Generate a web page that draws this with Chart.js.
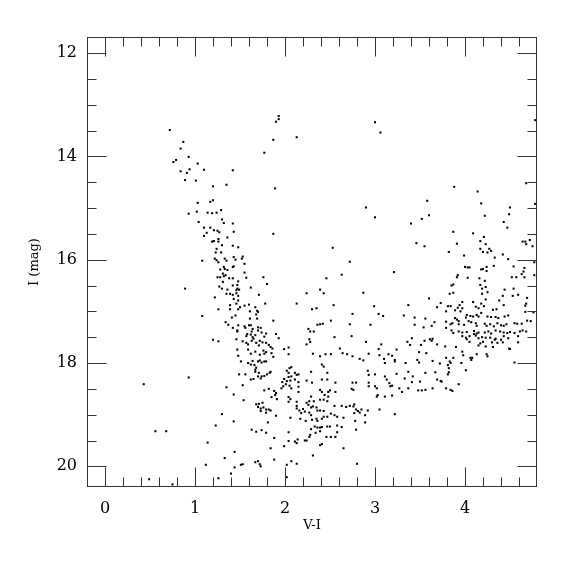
<!DOCTYPE html>
<html>
<head>
<meta charset="utf-8">
<style>
  html, body { margin: 0; padding: 0; background: #fff; }
  #wrap { width: 575px; height: 575px; }
</style>
<script src="https://cdn.jsdelivr.net/npm/chart.js@4/dist/chart.umd.min.js"></script>
</head>
<body>
<div id="wrap"><canvas id="c" width="575" height="575"></canvas></div>
<script>
// ---- Data (V-I colour, I magnitude) ----
const brightStars = [[0.72,13.49],[0.87,13.72],[0.84,13.85],[0.93,14.01],[0.79,14.07],[0.76,14.11],[1.03,14.14],[0.94,14.25],[1.10,14.26],[1.42,14.27],[0.84,14.29],[0.91,14.32],[0.89,14.46],[1.01,14.47],[1.20,14.58],[1.35,14.55],
[1.93,13.22],[1.93,13.28],[1.90,13.33],[3.00,13.34],[3.06,13.54],[2.13,13.63],[1.87,13.68],[1.77,13.93],[1.89,14.62],
[4.78,13.30],[4.68,14.52],[3.88,14.59]];

const blueBranch = [[1.03,14.90],[1.17,14.88],[1.20,14.85],[0.93,15.11],[1.02,15.07],[1.14,15.09],[1.19,15.10],[1.24,15.09],[1.29,15.04],[1.30,15.22],[1.32,15.29],[1.42,15.30],[1.04,15.27],[1.10,15.38],[1.17,15.38],[1.21,15.43],[1.25,15.44],[1.27,15.47],[1.13,15.48],[1.43,15.46],[1.10,15.54],[1.36,15.57],[1.26,15.60],[1.19,15.65],[1.21,15.64],[1.26,15.65],[1.30,15.72],[1.42,15.73],[1.48,15.76],[1.24,15.79],[1.23,15.86],[1.29,15.86],[1.22,15.98],[1.24,16.01],[1.26,16.05],[1.33,15.98],[1.35,16.02],[1.43,15.95],[1.45,16.00],[1.08,16.02],[1.32,16.14],[1.42,16.14],[1.43,16.13],[1.28,16.19],[1.33,16.18],[1.36,16.20],[1.31,16.27],[1.25,16.34],[1.28,16.34],[1.32,16.32],[1.34,16.30],[1.38,16.36],[1.42,16.36],[1.31,16.43],[1.48,16.42],[1.42,16.50],[1.47,16.49],[1.27,16.52],[1.30,16.56],[1.36,16.58],[1.47,16.56],[1.46,16.59],[1.49,16.58],[0.89,16.56],[1.35,16.66],[1.39,16.66],[1.42,16.68],[1.46,16.65],[1.48,16.70],[1.22,16.73],[1.43,16.76],[1.48,16.79],[1.46,16.85],[1.39,16.88],[1.26,16.96],[1.39,16.96],[1.48,16.96],[1.45,17.08],[1.41,17.12],[1.08,17.09],[1.34,17.21],[1.37,17.26],[1.48,17.27],[1.42,17.32],[1.47,17.37]];

const middleStars = [[2.90,14.99],[3.00,15.18],[1.87,15.50],[2.53,15.77],[2.72,16.04],[1.53,15.94],[1.52,15.98],[1.55,16.08],[1.55,16.25],[1.57,16.35],[1.76,16.34],[1.80,16.47],[1.62,16.54],[1.71,16.68],[1.78,16.85],[1.55,16.89],[1.60,16.87],[1.67,16.92],[1.50,16.92],[1.61,17.00],[1.69,16.99],[1.70,17.01],[1.68,17.06],[1.69,17.14],[1.61,17.14],[1.87,17.18],[1.55,17.29],[1.60,17.27],[1.62,17.27],[1.56,17.32],[1.64,17.34],[1.70,17.31],[1.73,17.32],[1.70,17.37],[1.63,17.39],[1.74,17.41],[1.79,17.43],[1.58,17.44],[1.62,17.45],[1.67,17.46],[1.57,17.48],[1.77,17.49],[1.90,17.44],[1.93,17.52],[1.64,17.50],
[2.24,16.65],[2.39,16.58],[2.43,16.65],[2.46,16.36],[2.63,16.29],[2.87,16.64],[2.13,16.85],[2.30,16.96],[2.35,16.94],[2.54,16.88],[2.99,16.90],[3.04,17.05],[2.75,17.05],[3.09,17.09],[2.51,17.18],[2.42,17.24],[2.36,17.26],[2.39,17.25],[2.72,17.25],[2.95,17.26],[2.26,17.34],[2.28,17.39],[2.32,17.39],[2.27,17.54],[2.55,17.50],[2.74,17.48]];

const redGiants = [[4.14,14.68],[3.58,14.86],[4.18,14.91],[4.78,14.92],[4.50,14.99],[3.60,15.14],[3.52,15.21],[4.22,15.15],[4.49,15.12],[3.40,15.30],[4.43,15.27],[4.47,15.38],[3.87,15.46],[4.09,15.49],[4.21,15.56],[4.17,15.64],[4.23,15.70],[3.91,15.69],[3.46,15.68],[3.55,15.74],[4.64,15.65],[4.67,15.65],[4.72,15.62],[4.68,15.70],[4.75,15.74],[4.17,15.79],[4.20,15.85],[4.27,15.79],[4.29,15.83],[4.25,15.86],[3.82,15.85],[3.99,15.92],[4.42,15.90],[4.33,15.96],[4.48,15.99],[4.77,16.05],[4.00,16.14],[4.03,16.15],[4.05,16.15],[4.32,16.12],[4.24,16.14],[4.18,16.19],[4.20,16.18],[4.24,16.22],[4.54,16.13],[4.66,16.16],[4.65,16.23],[4.63,16.28],[4.77,16.30],[4.66,16.34],[4.52,16.34],[4.57,16.34],[3.92,16.30],[3.91,16.34],[4.03,16.35],[4.16,16.36],[4.22,16.41],[3.21,16.24],[3.87,16.48],[3.85,16.50],[4.17,16.49],[4.19,16.56],[4.23,16.53],[4.44,16.58],[4.54,16.56],[3.87,16.64],[3.83,16.66],[4.19,16.66],[4.25,16.63],[3.60,16.75],[4.42,16.70],[4.53,16.70],[4.59,16.68],[4.69,16.74]];

const redClump = [[3.73,16.84],[3.69,16.92],[3.37,16.88],[3.81,16.90],[3.84,16.90],[3.94,16.88],[3.97,16.82],[4.09,16.82],[4.23,16.77],[4.18,16.85],[4.38,16.79],[4.12,16.91],[4.15,16.94],[3.92,16.93],[3.97,16.94],[4.21,16.90],[4.43,16.88],[4.67,16.89],[4.68,16.85],[3.32,17.08],[3.44,17.12],[3.56,17.14],[3.79,17.00],[3.89,16.98],[3.95,17.00],[3.89,17.13],[3.91,17.16],[3.93,17.19],[4.02,17.07],[4.06,17.09],[4.09,17.10],[4.01,17.12],[4.15,17.10],[4.13,17.07],[4.18,17.03],[4.25,17.10],[4.31,16.97],[4.35,16.96],[4.29,17.11],[4.34,17.11],[4.37,17.13],[4.44,17.10],[4.48,17.08],[4.67,17.01],[4.76,17.02],[4.69,17.18],[4.73,17.19],[3.44,17.26],[3.54,17.31],[3.63,17.28],[3.66,17.21],[3.79,17.20],[3.79,17.32],[3.84,17.25],[3.86,17.23],[3.93,17.25],[3.99,17.26],[4.04,17.19],[4.07,17.21],[4.12,17.23],[4.13,17.28],[4.22,17.24],[4.24,17.28],[4.28,17.25],[4.32,17.29],[4.36,17.23],[4.40,17.27],[4.43,17.28],[4.46,17.25],[4.55,17.23],[4.58,17.24],[4.63,17.24],[3.85,17.37],[3.87,17.42],[3.93,17.39],[3.97,17.41],[4.02,17.40],[4.10,17.38],[4.13,17.43],[4.15,17.41],[4.10,17.44],[4.22,17.41],[4.26,17.39],[4.29,17.43],[4.34,17.37],[4.39,17.39],[4.43,17.41],[4.47,17.42],[4.50,17.40],[4.55,17.42],[4.61,17.39],[4.64,17.37],[4.68,17.39],[3.41,17.52],[3.61,17.54],[3.64,17.53],[3.97,17.48],[4.05,17.48],[4.12,17.47],[4.19,17.50],[4.34,17.53],[4.43,17.48],[4.48,17.52],[4.59,17.48],[4.01,17.51],[4.15,17.52],[4.23,17.51],[4.28,17.51]];

const blueFaint = [[1.47,17.39],[1.20,17.55],[1.26,17.58],[1.46,17.54],[1.47,17.74],[1.48,17.86],[1.49,18.22],[0.93,18.28],[0.43,18.41],[1.35,18.47],[1.43,18.61],[1.30,18.99],[1.43,19.13],[1.23,19.21],[0.56,19.32],[0.68,19.32],[1.14,19.54],[1.44,19.72],[1.33,19.84],[1.12,19.97],[1.44,20.02],[1.40,20.14],[1.26,20.23],[0.49,20.25],[0.75,20.35]];

const faintStars = [[1.53,17.58],[1.57,17.61],[1.59,17.64],[1.63,17.57],[1.65,17.53],[1.68,17.61],[1.71,17.66],[1.72,17.57],[1.75,17.60],[1.79,17.61],[1.82,17.65],[1.84,17.69],[1.86,17.72],[2.28,17.59],[2.24,17.64],[1.59,17.74],[1.62,17.82],[1.67,17.78],[1.72,17.84],[1.76,17.76],[1.77,17.82],[1.79,17.79],[1.85,17.81],[1.87,17.88],[1.99,17.73],[2.04,17.70],[2.04,17.83],[2.31,17.82],[2.39,17.87],[2.45,17.83],[2.51,17.83],[2.61,17.72],[2.64,17.81],[2.69,17.83],[2.75,17.87],[2.83,17.92],[2.87,17.95],[2.90,17.59],[2.93,17.82],[3.04,17.73],[3.07,17.64],[3.10,17.92],[3.11,18.00],[3.15,17.83],
[1.51,17.97],[1.59,18.00],[1.64,17.96],[1.70,17.97],[1.72,17.95],[1.74,17.99],[1.77,17.97],[1.79,17.97],[1.62,18.03],[1.66,18.04],[1.68,18.09],[1.67,18.13],[1.67,18.17],[1.71,18.19],[1.74,18.26],[1.77,18.25],[1.80,18.22],[1.83,18.19],[1.84,18.17],[1.70,18.26],[1.73,18.30],[1.65,18.31],[1.62,18.32],[1.56,18.22],
[2.41,18.03],[2.43,18.07],[2.05,18.10],[2.07,18.08],[2.02,18.15],[2.04,18.19],[2.11,18.19],[2.13,18.23],[2.15,18.22],[2.04,18.27],[2.07,18.26],[1.99,18.31],[2.02,18.35],[2.06,18.34],[2.11,18.32],[1.97,18.37],[2.01,18.41],[2.05,18.44],[2.07,18.49],[2.15,18.37],[2.15,18.46],[2.15,18.56],[2.29,18.17],[2.24,18.34],[2.30,18.38],[2.41,18.32],[2.47,18.19],[2.47,18.32],[2.56,18.38],[2.75,18.38],[2.79,18.38],[2.76,18.52],[2.92,18.15],[2.93,18.23],[3.00,18.22],[2.93,18.38],[2.93,18.45],[3.00,18.45],[3.02,18.49],[3.03,18.62],[3.02,18.65],[3.11,18.26],[3.13,18.32],[3.16,18.39],
[1.53,18.43],[1.77,18.53],[1.82,18.50],[1.88,18.54],[1.90,18.58],[1.89,18.62],[1.91,18.70],[1.85,18.66],[1.96,18.49],[1.98,18.45],[2.39,18.52],[2.41,18.56],[2.48,18.56],[2.50,18.53],[2.56,18.56],[2.44,18.62],[2.48,18.65],[2.43,18.71],[2.47,18.74],[2.39,18.71],[2.74,18.50],
[1.54,18.72],[1.68,18.80],[1.71,18.79],[1.75,18.77],[1.70,18.85],[1.73,18.88],[1.76,18.86],[1.79,18.90],[1.73,18.93],[1.82,18.90],[1.79,18.96],[1.84,18.92],
[2.04,18.66],[2.06,18.70],[2.04,18.75],[2.13,18.75],[2.13,18.83],[2.13,18.88],[2.16,18.92],[2.18,18.97],[2.20,18.89],[2.22,18.94],[2.24,18.77],[2.26,18.81],[2.27,18.74],[2.29,18.65],[2.32,18.74],[2.29,18.86],[2.31,18.84],[2.35,18.86],[2.36,18.92],[2.39,18.92],[2.43,18.93],[2.27,18.96],[2.29,19.01],
[2.55,18.83],[2.63,18.83],[2.68,18.85],[2.72,18.83],[2.76,18.84],[2.77,18.80],[2.79,18.90],[2.81,18.93],[2.83,18.96],[2.85,18.90],[2.92,18.92],[2.89,19.01],[2.77,18.97],
[1.90,19.02],[2.06,19.06],[2.17,19.08],[2.23,19.12],[2.30,19.10],[2.35,19.08],[2.36,19.12],[2.41,19.08],[2.43,19.04],[2.47,19.04],[2.51,18.98],[2.55,19.01],[2.58,19.04],[2.65,19.06],[2.78,19.12],[2.89,19.15],[3.05,18.90],[1.81,19.15],
[2.33,19.23],[2.36,19.25],[2.39,19.25],[2.41,19.24],[2.47,19.23],[2.50,19.23],[2.29,19.28],[2.39,19.32],[2.34,19.35],[2.28,19.39],[2.58,19.21],[2.63,19.24],[2.58,19.34],[2.56,19.43],[2.46,19.43],[2.51,19.43],[2.79,19.29],
[1.63,19.29],[1.68,19.33],[1.74,19.30],[1.79,19.35],[2.04,19.34],[1.88,19.45],[2.04,19.51],[2.11,19.52],[2.13,19.55],[2.14,19.48],[2.22,19.50],[2.24,19.50],[2.27,19.43],[2.39,19.59],[2.41,19.57],[1.99,19.61],[2.65,19.65],[1.84,19.65],[2.31,19.79],[1.88,19.87],[1.67,19.92],[1.70,19.90],[1.73,20.00],[1.72,19.96],[2.07,19.90],[2.13,19.95],[2.02,19.97],[1.53,19.96],[1.51,19.97],[2.80,19.95],[2.02,20.21]];

const redFaint = [[3.05,17.85],[3.19,17.86],[3.22,17.94],[3.22,17.97],[3.24,17.74],[3.17,18.45],[3.19,18.44],[3.24,18.21],[3.27,18.49],[3.30,18.56],[3.33,18.30],[3.37,18.17],[3.37,18.49],[3.41,18.37],[3.42,18.26],[3.11,18.65],[3.19,18.63],[3.22,18.99],[3.34,18.00],[3.36,17.59],[3.39,17.65],[3.47,17.94],[3.49,17.99],[3.49,17.79],[3.51,17.65],[3.55,17.57],[3.57,17.81],[3.56,18.19],[3.63,17.57],[3.69,17.64],[3.64,17.96],[3.72,18.01],[3.78,17.68],[3.79,17.90],[3.81,18.04],[3.83,17.97],[3.50,18.36],[3.48,18.53],[3.52,18.53],[3.56,18.52],[3.64,18.49],[3.67,18.18],[3.69,18.32],[3.73,18.35],[3.74,18.36],[3.79,18.49],[3.81,18.22],[3.82,18.18],[3.82,18.10],[3.84,18.52],[3.86,18.54],[3.93,18.41],[3.84,18.00],[3.87,17.90],[3.90,17.69],[3.96,18.00],[3.97,17.78],[3.98,17.85],[4.01,18.14],[4.02,17.54],[4.05,17.59],[4.15,17.66],[4.17,17.62],[4.20,17.59],[4.23,17.68],[4.24,17.83],[4.25,17.87],[4.30,17.60],[4.31,17.69],[4.33,17.55],[4.36,17.61],[4.40,17.55],[4.42,17.60],[4.49,17.72],[4.50,17.73],[4.59,17.60],[4.55,17.99],[4.08,17.90],[4.06,17.90],[4.07,17.94],[4.13,17.83]];

const xMajorTicks = [0, 1, 2, 3, 4];
const xMinorStep = 0.2;
const yMajorTicks = [12, 14, 16, 18, 20];
const yMinorStep = 0.5;
const xTitle = 'V-I';
const yTitle = 'I (mag)';

// ---- Chart ----
const allStars = [].concat(brightStars, blueBranch, middleStars, redGiants, redClump, blueFaint, faintStars, redFaint)
  .map(p => ({ x: p[0], y: p[1] }));

const frameColor = '#333';
const frameTicks = {
  id: 'frameTicks',
  afterDatasetsDraw(chart) {
    const { ctx, chartArea: a, scales: { x, y } } = chart;
    const L = Math.round(a.left) + 0.5, R = Math.round(a.right) - 0.5;
    const T = Math.round(a.top) + 0.5, B = Math.round(a.bottom) - 0.5;
    ctx.save();
    ctx.strokeStyle = frameColor;
    ctx.lineWidth = 1;
    ctx.strokeRect(L, T, R - L, B - T);
    ctx.beginPath();
    const xMajorSet = xMajorTicks.map(v => v.toFixed(2));
    for (let i = Math.ceil(x.min / xMinorStep); i * xMinorStep <= x.max + 1e-9; i++) {
      const v = i * xMinorStep;
      const p = Math.round(x.getPixelForValue(v)) + 0.5;
      if (p <= L + 1 || p >= R - 1) continue;
      const len = xMajorSet.includes(v.toFixed(2)) ? 19 : 9;
      ctx.moveTo(p, B); ctx.lineTo(p, B - len);
      ctx.moveTo(p, T); ctx.lineTo(p, T + len);
    }
    const yMajorSet = yMajorTicks.map(v => v.toFixed(2));
    for (let i = Math.ceil(y.min / yMinorStep); i * yMinorStep <= y.max + 1e-9; i++) {
      const v = i * yMinorStep;
      const p = Math.round(y.getPixelForValue(v)) + 0.5;
      if (p <= T + 1 || p >= B - 1) continue;
      const len = yMajorSet.includes(v.toFixed(2)) ? 19 : 9;
      ctx.moveTo(L, p); ctx.lineTo(L + len, p);
      ctx.moveTo(R, p); ctx.lineTo(R - len, p);
    }
    ctx.stroke();
    ctx.restore();
  }
};

const tickFont = { family: "'DejaVu Serif', serif", size: 16 };
const titleFont = { family: "'DejaVu Serif', serif", size: 13 };

new Chart(document.getElementById('c'), {
  type: 'scatter',
  data: {
    datasets: [{
      data: allStars,
      pointStyle: 'rect',
      pointRadius: 1.45,
      pointBorderWidth: 0,
      pointBackgroundColor: '#000',
      borderColor: '#000',
      backgroundColor: '#000'
    }]
  },
  options: {
    responsive: false,
    devicePixelRatio: 1,
    animation: false,
    events: [],
    layout: { padding: { left: 0, right: 38, top: 37, bottom: 0 } },
    plugins: { legend: { display: false }, tooltip: { enabled: false } },
    scales: {
      x: {
        type: 'linear',
        min: -0.2,
        max: 4.8,
        grid: { display: false, drawTicks: false },
        border: { display: false },
        afterBuildTicks(s) { s.ticks = xMajorTicks.map(v => ({ value: v })); },
        afterFit(s) { s.height = 88; },
        ticks: { font: tickFont, color: '#000', padding: 12, maxRotation: 0, callback: v => String(v) },
        title: { display: true, text: xTitle, font: titleFont, color: '#000', padding: { top: 0, bottom: 42 } }
      },
      y: {
        type: 'linear',
        reverse: true,
        min: 11.69,
        max: 20.4,
        grid: { display: false, drawTicks: false },
        border: { display: false },
        afterBuildTicks(s) { s.ticks = yMajorTicks.map(v => ({ value: v })); },
        afterFit(s) { s.width = 87; },
        ticks: { font: tickFont, color: '#000', padding: 10, callback: v => String(v) },
        title: { display: true, text: yTitle, font: titleFont, color: '#000', padding: { top: 27, bottom: 0 } }
      }
    }
  },
  plugins: [frameTicks]
});
</script>
</body>
</html>
